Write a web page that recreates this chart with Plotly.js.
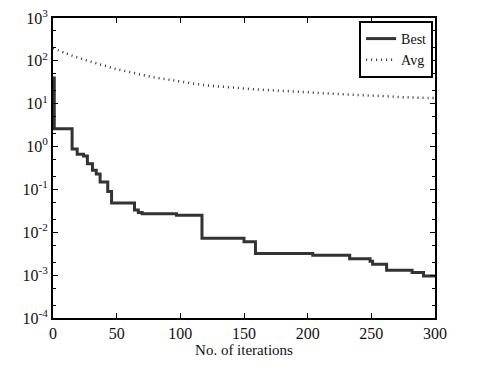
<!DOCTYPE html>
<html>
<head>
<meta charset="utf-8">
<script src="https://cdn.plot.ly/plotly-3.0.1.min.js"></script>
<style>html,body{margin:0;padding:0;background:#fff}#chart{width:490px;height:370px}</style>
</head>
<body>
<div id="chart"></div>
<script>
// Best fitness (step curve)
var bestX = [0, 1, 15, 19, 24, 27, 31, 34, 37, 43, 46, 64, 67, 70, 97, 117, 150, 159, 204, 233, 249, 251, 262, 282, 291, 300];
var bestY = [40, 2.6, 0.88, 0.66, 0.6, 0.4, 0.28, 0.23, 0.15, 0.09, 0.048, 0.033, 0.029, 0.027, 0.025, 0.0073, 0.006, 0.0032, 0.0029, 0.0024, 0.0021, 0.0018, 0.0013, 0.00115, 0.00095, 0.00095];
// Average fitness
var avgX = [0, 10, 20, 30, 40, 50, 60, 70, 80, 90, 100, 120, 140, 160, 180, 200, 220, 240, 260, 280, 300];
var avgY = [200, 150, 118, 95, 78, 64, 55, 47, 41, 37, 33, 27, 24, 21.5, 20, 18.5, 17, 16, 15, 14, 13.5];
// Axis ticks
var xTicks = [0, 50, 100, 150, 200, 250, 300];
var yTickVals = [1e-4, 1e-3, 1e-2, 1e-1, 1, 10, 100, 1000];
var yTickText = ['10<sup>-4</sup>', '10<sup>-3</sup>', '10<sup>-2</sup>', '10<sup>-1</sup>', '10<sup>0</sup>', '10<sup>1</sup>', '10<sup>2</sup>', '10<sup>3</sup>'];

var traces = [
  {x: bestX, y: bestY, name: 'Best', mode: 'lines', line: {shape: 'hv', color: '#333333', width: 3}},
  {x: avgX, y: avgY, name: 'Avg', mode: 'lines', line: {shape: 'spline', color: '#333333', width: 2.5, dash: '1px,4px'}}
];
var fam = 'Liberation Serif, Times New Roman, serif';
var layout = {
  width: 490, height: 370,
  margin: {l: 53, r: 55, t: 18, b: 52},
  paper_bgcolor: '#fff', plot_bgcolor: '#fff',
  font: {family: fam, size: 16, color: '#111'},
  showlegend: true,
  legend: {x: 0.995, y: 0.99, xanchor: 'right', yanchor: 'top', bordercolor: '#000', borderwidth: 2, bgcolor: '#fff',
    font: {family: fam, size: 14, color: '#111'}, tracegroupgap: 0, itemwidth: 30},
  xaxis: {range: [0, 300], tickvals: xTicks, ticks: 'inside', ticklen: 5, tickcolor: '#000',
    tickfont: {family: fam, size: 16, color: '#111'},
    showline: true, linecolor: '#000', linewidth: 2, mirror: 'allticks', showgrid: false, zeroline: false,
    title: {text: 'No. of iterations', font: {family: fam, size: 15, color: '#111'}, standoff: 0}},
  yaxis: {type: 'log', range: [-4, 3], tickvals: yTickVals, ticktext: yTickText, ticks: 'inside', ticklen: 5, tickcolor: '#000',
    tickfont: {family: fam, size: 16, color: '#111'},
    showline: true, linecolor: '#000', linewidth: 2, mirror: 'allticks', showgrid: false, zeroline: false,
    minor: {ticks: 'inside', ticklen: 3, tickcolor: '#000', showgrid: false}}
};
Plotly.newPlot('chart', traces, layout, {staticPlot: true, displayModeBar: false});
</script>
</body>
</html>
